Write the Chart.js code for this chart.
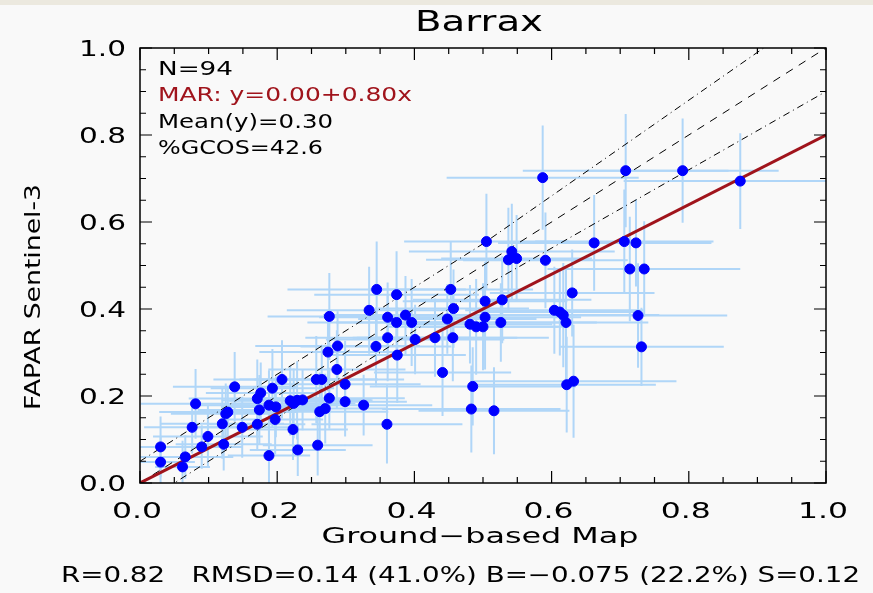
<!DOCTYPE html>
<html>
<head>
<meta charset="utf-8">
<script src="https://cdn.jsdelivr.net/npm/chart.js@4.4.0/dist/chart.umd.min.js"></script>
<style>
  html, body { margin: 0; padding: 0; background: #f9f9f9; }
  canvas { display: block; }
</style>
</head>
<body>
<canvas id="plot" width="873" height="593"></canvas>
<script>
// ground-based map FAPAR (x) vs Sentinel-3 FAPAR (y), with 1-sigma uncertainties
const groundMap = [
  0.030, 0.030, 0.066, 0.062, 0.081, 0.076, 0.090, 0.099, 0.122, 0.120,
  0.125, 0.128, 0.138, 0.149, 0.171, 0.176, 0.174, 0.171, 0.188, 0.188,
  0.193, 0.198, 0.197, 0.207, 0.223, 0.230, 0.224, 0.229, 0.237, 0.257,
  0.265, 0.259, 0.262, 0.270, 0.276, 0.274, 0.276, 0.288, 0.287, 0.299,
  0.299, 0.326, 0.334, 0.344, 0.345, 0.361, 0.361, 0.360, 0.374, 0.374,
  0.375, 0.387, 0.396, 0.401, 0.430, 0.441, 0.448, 0.453, 0.457, 0.456,
  0.481, 0.490, 0.500, 0.503, 0.503, 0.483, 0.485, 0.505, 0.516, 0.526,
  0.528, 0.537, 0.542, 0.549, 0.587, 0.591, 0.604, 0.617, 0.621, 0.622,
  0.632, 0.630, 0.662, 0.706, 0.723, 0.708, 0.714, 0.735, 0.726, 0.731,
  0.791, 0.875, 0.219, 0.612
];
const sentinel3 = [
  0.083, 0.048, 0.060, 0.037, 0.182, 0.128, 0.083, 0.107, 0.089, 0.136,
  0.159, 0.163, 0.221, 0.128, 0.194, 0.207, 0.168, 0.135, 0.063, 0.179,
  0.218, 0.175, 0.146, 0.238, 0.123, 0.076, 0.183, 0.190, 0.191, 0.238,
  0.238, 0.087, 0.164, 0.171, 0.195, 0.301, 0.383, 0.315, 0.261, 0.227,
  0.187, 0.179, 0.397, 0.314, 0.445, 0.381, 0.334, 0.135, 0.433, 0.369,
  0.294, 0.386, 0.369, 0.330, 0.334, 0.254, 0.377, 0.445, 0.401, 0.334,
  0.365, 0.359, 0.359, 0.418, 0.381, 0.170, 0.222, 0.555, 0.166, 0.369,
  0.421, 0.513, 0.532, 0.516, 0.702, 0.512, 0.397, 0.386, 0.369, 0.226,
  0.234, 0.437, 0.552, 0.555, 0.552, 0.718, 0.492, 0.492, 0.385, 0.313,
  0.718, 0.694, 0.189, 0.393
];
const groundErr = [
  0.06, 0.05, 0.07, 0.04, 0.08, 0.07, 0.06, 0.08, 0.07, 0.09,
  0.08, 0.10, 0.09, 0.07, 0.10, 0.08, 0.09, 0.07, 0.06, 0.10,
  0.09, 0.08, 0.07, 0.10, 0.08, 0.07, 0.09, 0.11, 0.10, 0.09,
  0.12, 0.08, 0.10, 0.09, 0.11, 0.10, 0.09, 0.12, 0.10, 0.11,
  0.09, 0.10, 0.12, 0.11, 0.13, 0.10, 0.12, 0.11, 0.12, 0.13,
  0.10, 0.12, 0.11, 0.13, 0.12, 0.10, 0.13, 0.12, 0.11, 0.14,
  0.12, 0.13, 0.11, 0.12, 0.14, 0.13, 0.15, 0.12, 0.11, 0.14,
  0.13, 0.12, 0.15, 0.11, 0.14, 0.12, 0.13, 0.14, 0.12, 0.13,
  0.15, 0.12, 0.14, 0.13, 0.11, 0.15, 0.12, 0.14, 0.13, 0.12,
  0.14, 0.17, 0.09, 0.12
];
const sentinelErr = [
  0.07, 0.06, 0.05, 0.06, 0.08, 0.06, 0.05, 0.07, 0.06, 0.08,
  0.07, 0.06, 0.08, 0.07, 0.09, 0.07, 0.08, 0.06, 0.07, 0.08,
  0.09, 0.07, 0.08, 0.09, 0.07, 0.06, 0.08, 0.09, 0.07, 0.10,
  0.08, 0.07, 0.09, 0.08, 0.07, 0.09, 0.10, 0.08, 0.09, 0.10,
  0.08, 0.07, 0.10, 0.09, 0.11, 0.08, 0.10, 0.09, 0.10, 0.08,
  0.11, 0.09, 0.10, 0.08, 0.09, 0.10, 0.08, 0.11, 0.09, 0.10,
  0.09, 0.11, 0.10, 0.09, 0.12, 0.10, 0.09, 0.11, 0.10, 0.09,
  0.10, 0.12, 0.11, 0.10, 0.12, 0.11, 0.10, 0.12, 0.13, 0.11,
  0.13, 0.10, 0.11, 0.12, 0.10, 0.13, 0.12, 0.11, 0.12, 0.09,
  0.12, 0.11, 0.08, 0.10
];

// regression (MAR) and GCOS envelope max(0.05, 10%)
const marIntercept = 0.00;
const marSlope = 0.80;
const oneToOne = [{x: 0, y: 0}, {x: 1, y: 1}];
const gcosUpper = [{x: 0, y: 0.05}, {x: 0.5, y: 0.55}, {x: 1, y: 1.1}];
const gcosLower = [{x: 0, y: -0.05}, {x: 0.5, y: 0.45}, {x: 1, y: 0.9}];

const tickValues = [0, 0.2, 0.4, 0.6, 0.8, 1.0];
const tickLabels = ['0.0', '0.2', '0.4', '0.6', '0.8', '1.0'];
const minorStep = 0.05;

const title = 'Barrax';
const xTitle = 'Ground\u2212based Map';
const yTitle = 'FAPAR Sentinel-3';
const statsText = ['N=94', 'MAR: y=0.00+0.80x', 'Mean(y)=0.30', '%GCOS=42.6'];
const statsColors = ['#000', '#a0141c', '#000', '#000'];
const footer = 'R=0.82   RMSD=0.14 (41.0%) B=\u22120.075 (22.2%) S=0.12';

const points = groundMap.map((x, i) => ({x: x, y: sentinel3[i]}));
const marLine = [{x: 0, y: marIntercept}, {x: 1, y: marIntercept + marSlope}];

const FONT = '"DejaVu Sans", sans-serif';

// draws text stretched horizontally to a given width (wide plotting font look)
function txt(ctx, s, x, y, size, align, width, color) {
  ctx.save();
  ctx.font = size + 'px ' + FONT;
  ctx.fillStyle = color || '#000';
  ctx.textBaseline = 'middle';
  ctx.textAlign = 'left';
  const w = ctx.measureText(s).width;
  const sx = width / w;
  const x0 = align === 'center' ? x - width / 2 : align === 'right' ? x - width : x;
  ctx.translate(x0, y);
  ctx.scale(sx, 1);
  ctx.fillText(s, 0, 0);
  ctx.restore();
}

const decor = {
  id: 'decor',
  beforeDraw(chart) {
    const ctx = chart.ctx;
    ctx.save();
    ctx.fillStyle = '#f9f9f9';
    ctx.fillRect(0, 0, chart.width, chart.height);
    ctx.fillStyle = '#ece9df';
    ctx.fillRect(0, 0, chart.width, 5);
    ctx.restore();
  },
  beforeDatasetsDraw(chart) {
    // uncertainty crosses
    const ctx = chart.ctx, xs = chart.scales.x, ys = chart.scales.y, a = chart.chartArea;
    ctx.save();
    ctx.beginPath();
    ctx.rect(a.left, a.top, a.right - a.left, a.bottom - a.top);
    ctx.clip();
    ctx.strokeStyle = '#b0d6f8';
    ctx.lineWidth = 2;
    groundMap.forEach((gx, i) => {
      const sy = sentinel3[i];
      const px = xs.getPixelForValue(gx), py = ys.getPixelForValue(sy);
      ctx.beginPath();
      ctx.moveTo(xs.getPixelForValue(gx - groundErr[i]), py);
      ctx.lineTo(xs.getPixelForValue(gx + groundErr[i]), py);
      ctx.moveTo(px, ys.getPixelForValue(sy - sentinelErr[i]));
      ctx.lineTo(px, ys.getPixelForValue(sy + sentinelErr[i]));
      ctx.stroke();
    });
    ctx.restore();
  },
  afterDraw(chart) {
    const ctx = chart.ctx, xs = chart.scales.x, ys = chart.scales.y, a = chart.chartArea;
    ctx.save();
    ctx.strokeStyle = '#000';
    ctx.lineWidth = 1.5;
    ctx.strokeRect(a.left, a.top, a.right - a.left, a.bottom - a.top);
    ctx.lineWidth = 1.2;
    ctx.beginPath();
    for (let k = 0; k <= Math.round(1 / minorStep); k++) {
      const v = k * minorStep;
      const len = k % 4 === 0 ? 12 : 6;
      const px = xs.getPixelForValue(v), py = ys.getPixelForValue(v);
      ctx.moveTo(px, a.bottom); ctx.lineTo(px, a.bottom - len);
      ctx.moveTo(px, a.top); ctx.lineTo(px, a.top + len);
      ctx.moveTo(a.left, py); ctx.lineTo(a.left + len, py);
      ctx.moveTo(a.right, py); ctx.lineTo(a.right - len, py);
    }
    ctx.stroke();
    ctx.restore();

    tickValues.forEach((v, i) => {
      txt(ctx, tickLabels[i], xs.getPixelForValue(v) - 3, a.bottom + 30, 21, 'center', 50);
      txt(ctx, tickLabels[i], a.left - 14, ys.getPixelForValue(v) + 3, 21, 'right', 47);
    });
    txt(ctx, title, (a.left + a.right) / 2 - 4, 23, 29, 'center', 128);
    txt(ctx, xTitle, (a.left + a.right) / 2 - 3, 538, 21, 'center', 317);
    ctx.save();
    ctx.translate(35, 297);
    ctx.rotate(-Math.PI / 2);
    txt(ctx, yTitle, 0, 0, 21, 'center', 226);
    ctx.restore();
    const statsWidths = [75, 254, 175, 165];
    statsText.forEach((s, i) => {
      txt(ctx, s, a.left + 18, 70 + i * 26.4, 19, 'left', statsWidths[i], statsColors[i]);
    });
    txt(ctx, footer, 61, 577, 21, 'left', 799);
  }
};

new Chart(document.getElementById('plot'), {
  type: 'scatter',
  data: {
    datasets: [
      {
        type: 'scatter',
        data: points,
        backgroundColor: '#0000ff',
        borderColor: '#0000ff',
        pointRadius: 5,
        pointHoverRadius: 5,
        order: 1
      },
      {
        type: 'line',
        data: marLine,
        borderColor: '#a0141c',
        borderWidth: 3,
        pointRadius: 0,
        order: 2
      },
      {
        type: 'line',
        data: oneToOne,
        borderColor: '#000',
        borderWidth: 1,
        borderDash: [8, 7],
        pointRadius: 0,
        order: 3
      },
      {
        type: 'line',
        data: gcosUpper,
        borderColor: '#000',
        borderWidth: 1,
        borderDash: [7, 4, 1, 4],
        pointRadius: 0,
        order: 3
      },
      {
        type: 'line',
        data: gcosLower,
        borderColor: '#000',
        borderWidth: 1,
        borderDash: [7, 4, 1, 4],
        pointRadius: 0,
        order: 3
      }
    ]
  },
  options: {
    responsive: false,
    animation: false,
    devicePixelRatio: 1,
    layout: { padding: { left: 140, right: 47, top: 48, bottom: 110 } },
    scales: {
      x: { type: 'linear', min: 0, max: 1, display: false },
      y: { type: 'linear', min: 0, max: 1, display: false }
    },
    plugins: {
      legend: { display: false },
      tooltip: { enabled: false }
    }
  },
  plugins: [decor]
});
</script>
</body>
</html>
